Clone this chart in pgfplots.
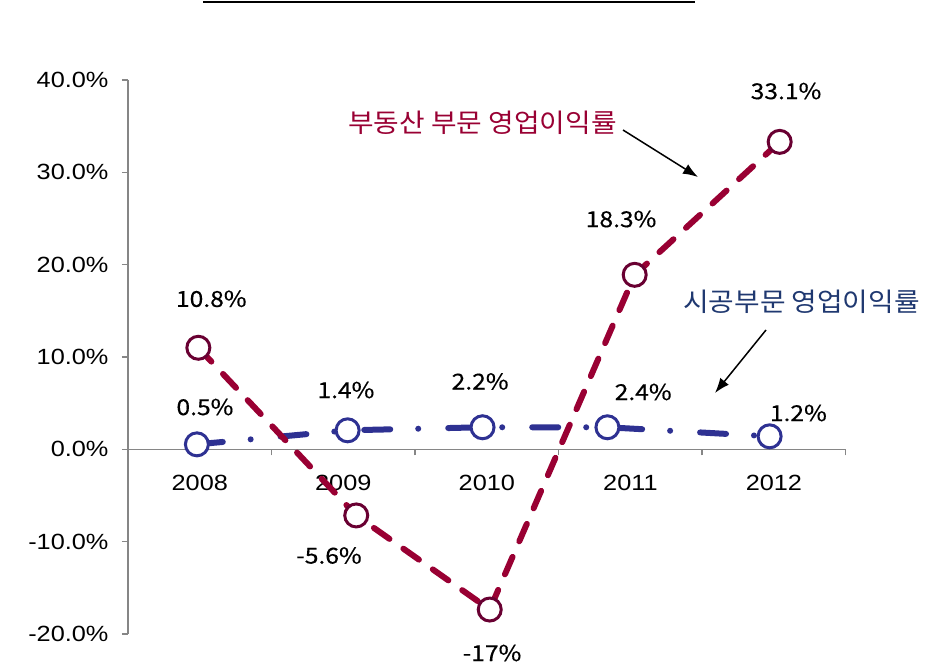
\documentclass[border=0pt]{standalone}
\usepackage{fontspec}
\usepackage{pgfplots}
\pgfplotsset{compat=1.18}
\usetikzlibrary{arrows.meta}
\setmainfont{Liberation Sans}[FakeStretch=1.15]
\newfontfamily\kr{Noto Sans CJK KR}[FakeStretch=1.07]
\newfontfamily\krnum{Noto Sans CJK KR}[FakeStretch=1.12, FakeBold=0.4]
\definecolor{redline}{RGB}{153,0,51}
\definecolor{redmark}{RGB}{105,0,50}
\definecolor{navyline}{RGB}{46,49,146}
\definecolor{navytext}{RGB}{31,56,112}
\definecolor{axisgray}{RGB}{134,134,134}
\begin{document}
\begin{tikzpicture}[x=1pt,y=1pt]
\useasboundingbox (0,0) rectangle (939,664);
\draw[line width=2pt] (203,662) -- (695,662);
\begin{axis}[
  at={(128pt,30pt)}, anchor=south west,
  scale only axis, width=717.7pt, height=554pt,
  xmin=-0.5, xmax=4.5, ymin=-20, ymax=40,
  axis x line*=middle, axis y line*=left,
  hide obscured x ticks=false, hide obscured y ticks=false,
  axis line style={draw=axisgray, line width=1.5pt},
  clip=false,
  xtick={-0.5,0.5,1.5,2.5,3.5,4.5},
  xticklabels={2008,2009,2010,2011,2012},
  x tick label as interval,
  ytick={-20,-10,0,10,20,30,40},
  yticklabels={-20.0\%,-10.0\%,0.0\%,10.0\%,20.0\%,30.0\%,40.0\%},
  tick align=outside,
  major tick length=6pt,
  tick style={draw=axisgray, line width=1.5pt},
  ticklabel style={font=\fontsize{22}{26}\selectfont, text=black},
  yticklabel style={anchor=east, xshift=-10pt},
  xticklabel style={anchor=center, yshift=-28pt},
]
\addplot[navyline, line width=6pt, line cap=round, dash pattern=on 26pt off 28pt on 0pt off 30pt,
  mark=*, mark size=11.5pt, mark options={solid, fill=white, draw=navyline, line width=3pt}]
  coordinates {(-0.02,0.54) (1.03,2.06) (1.97,2.39) (2.84,2.39) (3.97,1.41)};
\addplot[redline, line width=6pt, line cap=round, dash pattern=on 19pt off 17pt,
  mark=*, mark size=11.5pt, mark options={solid, fill=white, draw=redmark, line width=3pt}]
  coordinates {(-0.01,11.0) (1.09,-7.16) (2.02,-17.35) (3.03,18.9) (4.04,33.3)};
\begin{scope}[every node/.style={font=\krnum\fontsize{22}{25}\selectfont, text=black}]
\node at (axis cs:0.08,16.3) {10.8\%};
\node at (axis cs:0.036,4.58) {0.5\%};
\node at (axis cs:1.018,6.42) {1.4\%};
\node at (axis cs:1.953,7.35) {2.2\%};
\node at (axis cs:3.089,6.21) {2.4\%};
\node at (axis cs:4.17,3.93) {1.2\%};
\node at (axis cs:2.935,24.94) {18.3\%};
\node at (axis cs:4.084,38.8) {33.1\%};
\node at (axis cs:0.900,-11.5) {-5.6\%};
\node at (axis cs:2.036,-22.06) {-17\%};
\end{scope}
\end{axis}
\node[font=\kr\fontsize{26}{29}\selectfont, text=redline] at (482.5,541) {부동산 부문 영업이익률};
\node[font=\kr\fontsize{26}{29}\selectfont, text=navytext] at (801.5,362) {시공부문 영업이익률};
\draw[line width=1.5pt, -{Latex[length=15pt,width=11pt]}] (623,534) -- (698,487);
\draw[line width=1.5pt, -{Latex[length=15pt,width=11pt]}] (766,334) -- (715,271);
\end{tikzpicture}
\end{document}
